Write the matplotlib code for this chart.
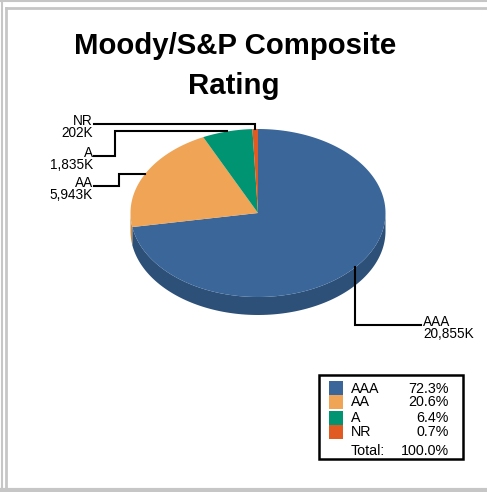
import matplotlib
matplotlib.use('Agg')
from matplotlib import pyplot as plt
import numpy as np

plt.rcParams['font.family'] = ['Liberation Sans', 'DejaVu Sans']

# data
names = ['AAA', 'AA', 'A', 'NR']
values_k = [20855, 5943, 1835, 202]
percents = [72.3, 20.6, 6.4, 0.7]
top_colors = ['#3A6699', '#F0A455', '#009473', '#E05A22']
side_colors = ['#2D5079', '#C98940', '#007A5E', '#B84818']

# leader / label layout (pixels)
label_y = [325, 185.7, 155.7, 123.7]
elbow_x = [None, 119, 115, None]
label_x = [423, 93, 93, 93]

W, H = 487, 492
fig = plt.figure(figsize=(W / 100, H / 100), dpi=100)
ax = fig.add_axes([0, 0, 1, 1])
ax.set_xlim(0, W)
ax.set_ylim(H, 0)
ax.axis('off')

# frame
gray = '#C6C6C6'
ax.plot([1.5, 1.5], [0, H], color=gray, lw=1.5)
ax.plot([6, 6], [8, 490], color=gray, lw=2)
ax.plot([0, W], [1, 1], color=gray, lw=1.5)
ax.plot([6, W], [8, 8], color=gray, lw=2)
ax.plot([0, W], [490, 490], color=gray, lw=3)

# title
ax.text(235, 53.5, 'Moody/S&P Composite', ha='center', va='baseline',
        fontsize=21.2, fontweight='bold')
ax.text(234, 94, 'Rating', ha='center', va='baseline',
        fontsize=21.2, fontweight='bold')

# pie geometry
cx, cy, rx, ry, depth = 258, 213, 127.5, 84, 18
total = sum(values_k)
fracs = [v / total for v in values_k]

def ell(t, dy=0):
    return cx + rx * np.cos(t), cy - ry * np.sin(t) + dy

# slices go clockwise from the top
starts = []
a = 90.0
for f in fracs:
    starts.append((a, a - 360 * f))
    a -= 360 * f

# sides (front half only)
for (a1, a2), sc in zip(starts, side_colors):
    lo, hi = min(a1, a2), max(a1, a2)
    for base in (-360, 0):
        s0, s1 = max(lo, base - 180), min(hi, base)
        if s1 > s0:
            t = np.radians(np.linspace(s0, s1, 120))
            x, y = ell(t)
            xb, yb = ell(t[::-1], depth)
            ax.fill(np.r_[x, xb], np.r_[y, yb], color=sc, lw=0, zorder=2)

# tops
for (a1, a2), tc in zip(starts, top_colors):
    t = np.radians(np.linspace(a1, a2, 200))
    x, y = ell(t)
    ax.fill(np.r_[cx, x], np.r_[cy, y], color=tc, lw=0, zorder=3)

# leaders and labels
for i, ((a1, a2), n, v) in enumerate(zip(starts, names, values_k)):
    mid = np.radians((a1 + a2) / 2)
    px, py = ell(mid)
    ex = px if elbow_x[i] is None else elbow_x[i]
    lx = label_x[i]
    end = lx - 2 if lx > px else lx + 1
    ax.plot([px, ex, ex, end], [py, py, label_y[i], label_y[i]],
            color='black', lw=1.5, zorder=4, solid_joinstyle='miter')
    ha = 'left' if lx > px else 'right'
    ax.text(lx, label_y[i] + 1, n, ha=ha, va='baseline', fontsize=9.8)
    ax.text(lx, label_y[i] + 13, f'{v:,}K', ha=ha, va='baseline', fontsize=9.8)

# legend box
ax.add_patch(plt.Rectangle((319, 375), 144, 84, fill=False, ec='black', lw=1.8, zorder=5))
sq_y = [381, 395, 411, 425]
txt_y = [393, 406.5, 421.5, 435.5]
for c, n, p, sy, ty in zip(top_colors, names, percents, sq_y, txt_y):
    ax.add_patch(plt.Rectangle((329, sy), 14, 14, color=c, lw=0, zorder=5))
    ax.text(351, ty, n, ha='left', va='baseline', fontsize=10.3)
    ax.text(449, ty, f'{p:.1f}%', ha='right', va='baseline', fontsize=10.3)
ax.text(351, 455, 'Total:', ha='left', va='baseline', fontsize=10.3)
ax.text(449, 455, f'{sum(percents):.1f}%', ha='right', va='baseline', fontsize=10.3)

fig.savefig('out.png', dpi=100)
